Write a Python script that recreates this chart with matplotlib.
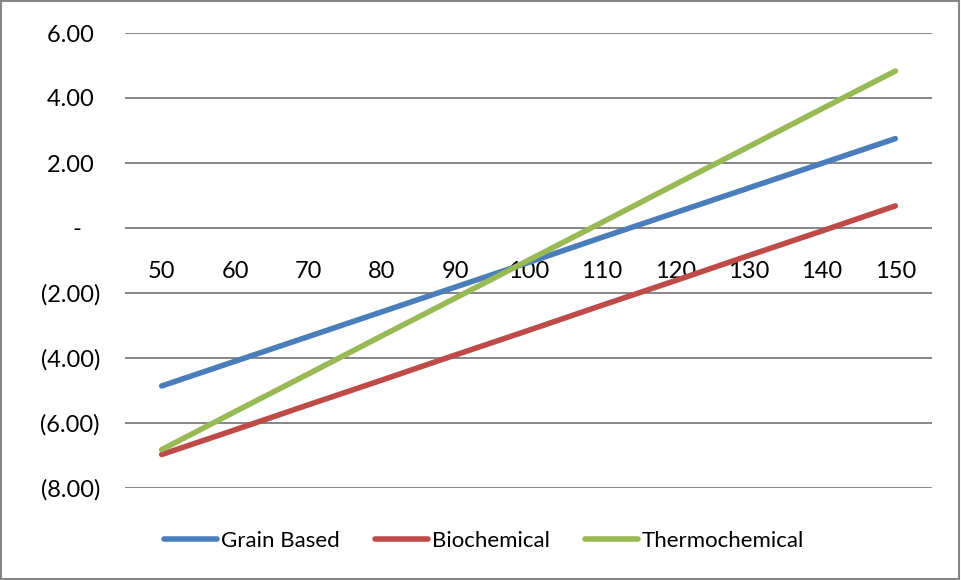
import matplotlib
matplotlib.use("Agg")
import matplotlib.pyplot as plt
from matplotlib.patches import Rectangle

categories = [50, 60, 70, 80, 90, 100, 110, 120, 130, 140, 150]
grain_based = [-4.86, -4.10, -3.34, -2.58, -1.82, -1.06, -0.29, 0.47, 1.23, 1.99, 2.75]
biochemical = [-6.97, -6.21, -5.44, -4.68, -3.91, -3.15, -2.38, -1.62, -0.85, -0.09, 0.68]
thermochemical = [-6.82, -5.65, -4.49, -3.32, -2.16, -0.99, 0.17, 1.34, 2.50, 3.67, 4.83]
y_ticks = [-8, -6, -4, -2, 0, 2, 4, 6]
y_tick_labels = ["(8.00)", "(6.00)", "(4.00)", "(2.00)", "-   ", "2.00 ", "4.00 ", "6.00 "]

plt.rcParams['font.family'] = ['Lato', 'DejaVu Sans']
W, H = 961, 580
fig = plt.figure(figsize=(W / 100, H / 100), dpi=100)
ax = fig.add_axes([125 / W, 1 - 488 / H, (932 - 125) / W, (488 - 33) / H])

x = list(range(len(categories)))
colors = {"Grain Based": "#4A7EBB", "Biochemical": "#BE4B48", "Thermochemical": "#98B954"}
for name, vals in [("Grain Based", grain_based), ("Biochemical", biochemical), ("Thermochemical", thermochemical)]:
    ax.plot(x, vals, color=colors[name], lw=4.0, solid_capstyle='round', label=name, zorder=3)

ax.set_xlim(-0.5, len(categories) - 0.5)
ax.set_ylim(-8, 6)
ax.set_yticks(y_ticks)
ax.set_yticklabels(y_tick_labels)
for yv in y_ticks:
    ax.axhline(yv, color="#868686", lw=1.4, zorder=1)

for s in ["top", "right", "left"]:
    ax.spines[s].set_visible(False)
ax.spines["bottom"].set_position(("data", 0))
ax.spines["bottom"].set_visible(False)
ax.set_xticks(x)
ax.set_xticklabels([str(c) for c in categories])
ax.tick_params(axis="x", length=0, pad=24, labelsize=17)
ax.tick_params(axis="y", length=0, pad=18, labelsize=17)

leg = fig.legend(loc="center", bbox_to_anchor=(484 / W, 1 - 541 / H), ncol=3, frameon=False,
                 fontsize=16, handlelength=2.4, handletextpad=0.15, columnspacing=1.6)

fig.patches.append(Rectangle((0.001, 0.001), 0.997, 0.997, transform=fig.transFigure,
                             fill=False, edgecolor="#868686", lw=1.5))
fig.savefig("out.png", dpi=100)
